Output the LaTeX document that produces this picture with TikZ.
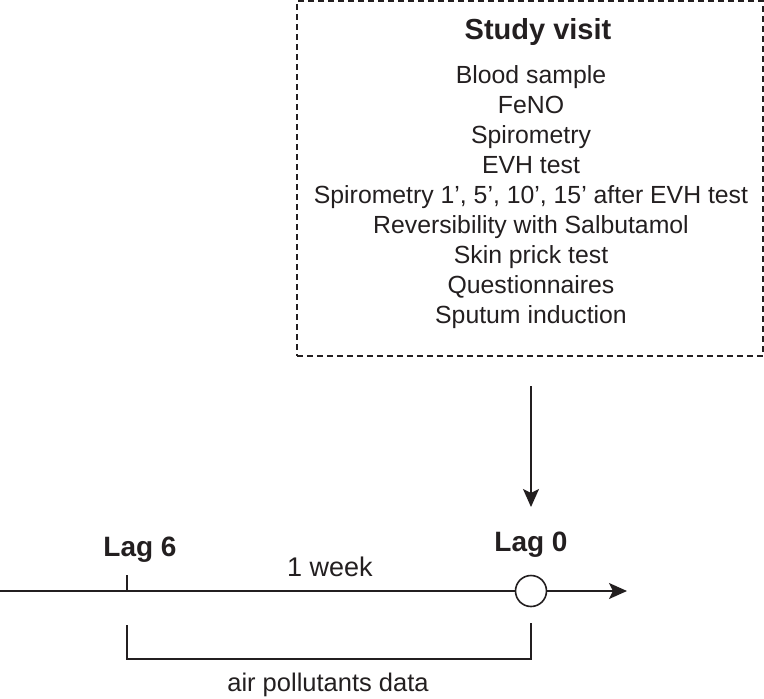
\documentclass[tikz,border=0pt]{standalone}
\usepackage{fontspec}
\setmainfont{Liberation Sans}
\usetikzlibrary{arrows.meta}
\definecolor{ink}{HTML}{231F20}
\begin{document}
\begin{tikzpicture}[x=1pt,y=-1pt,
  line width=1.6pt, draw=ink, text=ink,
  item/.style={anchor=base, font=\fontsize{24.8}{30}\selectfont, inner sep=0pt},
  lag/.style={anchor=base, font=\fontsize{28}{32}\selectfont\bfseries, inner sep=0pt},
  plain/.style={anchor=base, font=\fontsize{27}{30}\selectfont, inner sep=0pt},
  tip/.style={-{Stealth[length=18pt,width=16pt,inset=4pt]}}]
\useasboundingbox (0,0) rectangle (764,699);
% box
\node[draw=ink, dashed, dash pattern=on 6pt off 4pt, minimum width=466pt, minimum height=355pt, inner sep=0pt] (box) at (530,178.5) {};
\node[anchor=base, font=\fontsize{29}{32}\selectfont\bfseries, inner sep=0pt] (title) at (538,39) {Study visit};
\node[item] (i1) at (531,83) {Blood sample};
\node[item] (i2) at (531,113) {FeNO};
\node[item] (i3) at (531,143) {Spirometry};
\node[item] (i4) at (531,173) {EVH test};
\node[item] (i5) at (531,203) {Spirometry 1’, 5’, 10’, 15’ after EVH test};
\node[item] (i6) at (531,233) {Reversibility with Salbutamol};
\node[item] (i7) at (531,263) {Skin prick test};
\node[item] (i8) at (531,293) {Questionnaires};
\node[item] (i9) at (531,323) {Sputum induction};
% arrow down
\coordinate (as) at (531,386);
\coordinate (ae) at (531,507);
\draw[tip, draw=ink, fill=ink] (as) -- (ae);
% timeline
\coordinate (t0) at (0,591);
\node[circle, draw=ink, minimum size=31pt, inner sep=0pt] (c0) at (531,591) {};
\coordinate (tend) at (627,591);
\draw (t0) -- (c0.west);
\draw[tip, fill=ink] (c0.east) -- (tend);
% tick
\coordinate (k6) at (127,591);
\coordinate (k6t) at (127,575);
\draw (k6) -- (k6t);
% labels
\node[lag] (lag6) at (140,556) {Lag 6};
\node[lag] (lag0) at (531,551) {Lag 0};
\node[plain] (week) at (330,576) {1 week};
% bracket
\coordinate (bl) at (127,625);
\coordinate (br) at (531,623);
\draw (bl) -- (127,659) -- (531,659) -- (br);
\node[plain, font=\fontsize{25.5}{30}\selectfont] (air) at (328,691) {air pollutants data};
\end{tikzpicture}
\end{document}
